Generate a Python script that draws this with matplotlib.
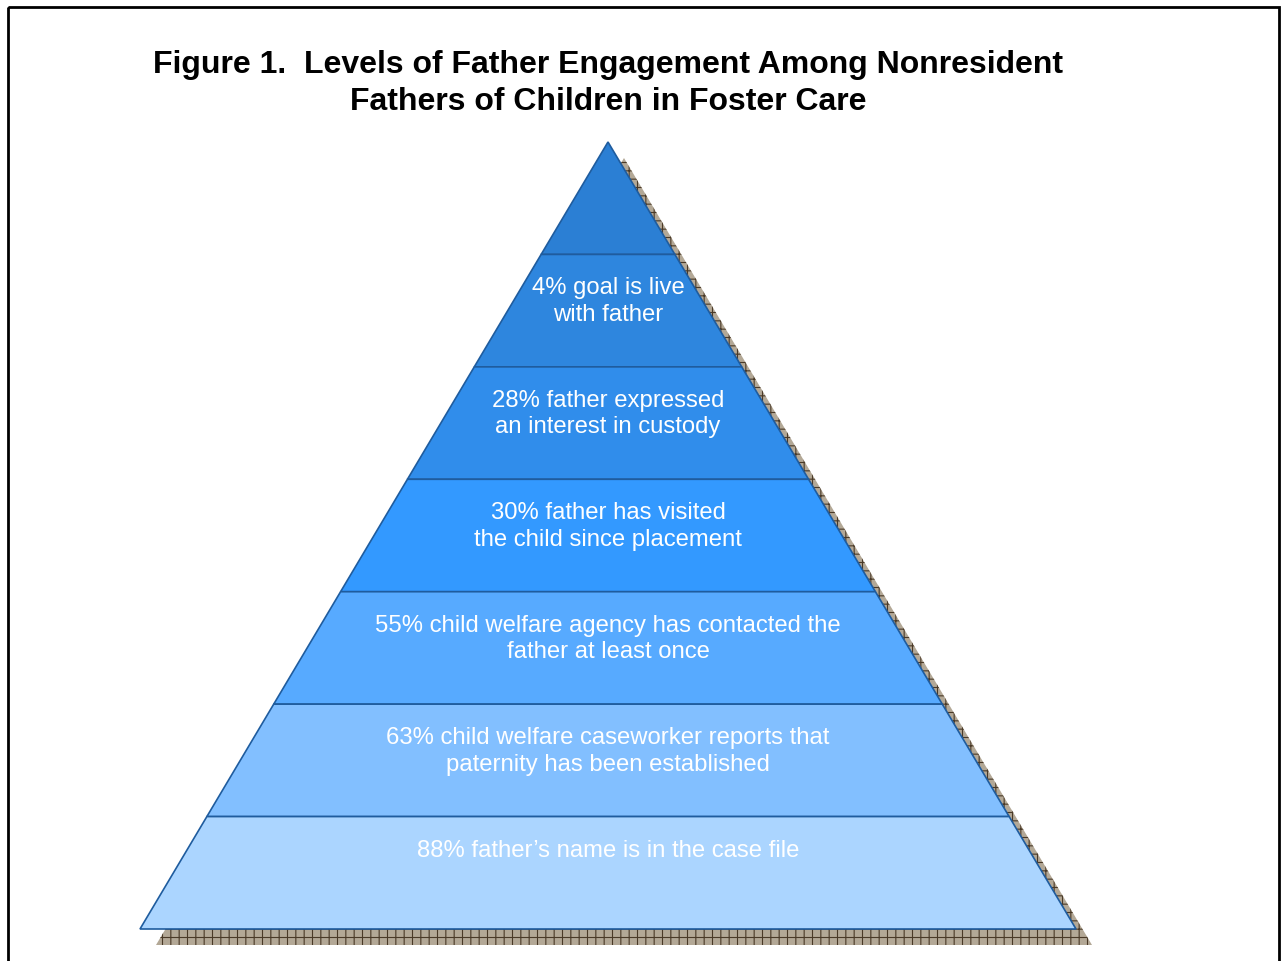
import matplotlib.pyplot as plt
from matplotlib.patches import Polygon, Rectangle

plt.rcParams['font.family'] = ['Liberation Sans', 'DejaVu Sans']
plt.rcParams['hatch.linewidth'] = 0.8

title_lines = ["Figure 1.  Levels of Father Engagement Among Nonresident",
               "Fathers of Children in Foster Care"]

# levels from top of the pyramid to the base
levels = ["",
          "4% goal is live\nwith father",
          "28% father expressed\nan interest in custody",
          "30% father has visited\nthe child since placement",
          "55% child welfare agency has contacted the\nfather at least once",
          "63% child welfare caseworker reports that\npaternity has been established",
          "88% father\u2019s name is in the case file"]
colors = ["#2b7fd4", "#2e86de", "#308deb", "#3399ff", "#57aaff", "#82bfff", "#abd5ff"]

W, H = 1281, 962
fig = plt.figure(figsize=(W / 100, H / 100), dpi=100)
ax = fig.add_axes([0, 0, 1, 1])
ax.set_xlim(0, W)
ax.set_ylim(H, 0)
ax.axis('off')

# frame
ax.add_patch(Rectangle((8, 8), 1271, 970, fill=False, lw=2, ec='black'))

apex_x, apex_y = 608, 143
base_y, half_base = 930, 468
n = len(levels)

def half_w(y):
    return half_base * (y - apex_y) / (base_y - apex_y)

# shadow
dx, dy = 16, 16
shadow = Polygon([(apex_x + dx, apex_y + dy), (apex_x + half_base + dx, base_y + dy),
                  (apex_x - half_base + dx, base_y + dy)],
                 closed=True, fc='#b3a896', ec='#4a3a28', lw=0, hatch='++', zorder=1)
ax.add_patch(shadow)

band_h = (base_y - apex_y) / n
for i, (lab, col) in enumerate(zip(levels, colors)):
    y0 = apex_y + i * band_h
    y1 = y0 + band_h
    w0, w1 = half_w(y0), half_w(y1)
    pts = [(apex_x - w0, y0), (apex_x + w0, y0), (apex_x + w1, y1), (apex_x - w1, y1)]
    ax.add_patch(Polygon(pts, closed=True, fc=col, ec='#1f5c9e', lw=1.2, zorder=2))
    if lab:
        ax.text(apex_x, y0 + 22, lab, ha='center', va='top', color='white',
                fontsize=17.2, linespacing=1.27, zorder=3)

ax.text(608, 65, title_lines[0], ha='center', va='center', fontsize=23, fontweight='bold')
ax.text(608, 102, title_lines[1], ha='center', va='center', fontsize=23, fontweight='bold')

fig.savefig("out.png", dpi=100)
